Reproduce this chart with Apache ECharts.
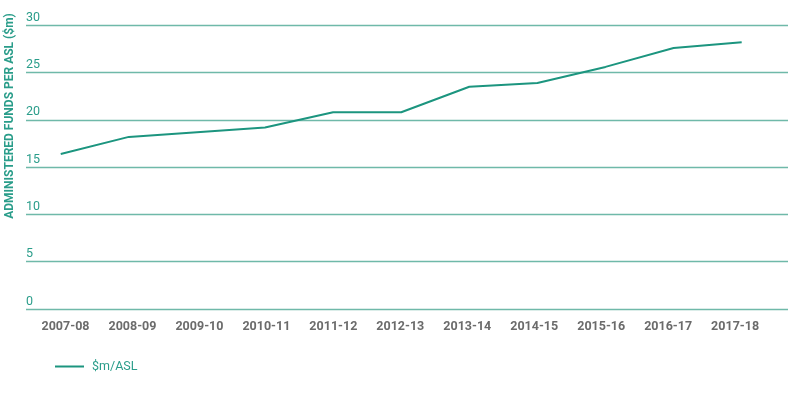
<!DOCTYPE html>
<html>
<head>
<meta charset="utf-8">
<script src="https://cdn.jsdelivr.net/npm/echarts@6/dist/echarts.min.js"></script>
<style>html,body{margin:0;padding:0;background:#fff}#c{width:795px;height:395px}</style>
</head>
<body>
<div id="c"></div>
<script>
var categories = ['2007-08','2008-09','2009-10','2010-11','2011-12','2012-13','2013-14','2014-15','2015-16','2016-17','2017-18'];
var fundsPerAsl = [16.4, 18.2, 18.7, 19.2, 20.8, 20.8, 23.5, 23.9, 25.6, 27.6, 28.2];
var yTicks = [0, 5, 10, 15, 20, 25, 30];
var seriesName = '$m/ASL';
var yTitle = 'ADMINISTERED FUNDS PER ASL ($m)';

var FONT = 'Roboto,"Liberation Sans",sans-serif';
var chart = echarts.init(document.getElementById('c'));
var idx = categories.map(function(_, i){ return i; });
chart.setOption({
  animation: false,
  grid: { left: 26, right: 7, top: 25.3, bottom: 86 },
  xAxis: [{
    type: 'value', min: -0.51, max: 10.68,
    axisLine: { show: false }, axisTick: { show: false },
    axisLabel: { show: false }, splitLine: { show: false }
  }, {
    type: 'value', min: -0.59, max: 10.79, position: 'bottom',
    axisLine: { show: false }, axisTick: { show: false }, splitLine: { show: false },
    axisLabel: {
      customValues: idx,
      formatter: function(v){ return categories[Math.round(v)]; },
      color: '#6b6b6b', fontFamily: FONT, fontWeight: 'bold', fontSize: 12.5, margin: 11
    }
  }],
  yAxis: {
    type: 'value', min: 0, max: 30, interval: 5,
    axisLine: { show: false }, axisTick: { show: false },
    splitLine: { lineStyle: { color: '#6fb9a9', width: 1.3 } },
    axisLabel: {
      inside: true, align: 'left', verticalAlign: 'bottom', margin: 0,
      lineHeight: 13, padding: [0, 0, 1, 0],
      color: '#2a9d8a', fontFamily: FONT, fontSize: 12.5,
      formatter: function(v){ return yTicks.indexOf(v) >= 0 ? String(v) : ''; }
    }
  },
  legend: {
    left: 50, top: 355, icon: 'rect', itemWidth: 29, itemHeight: 2, itemGap: 10,
    textStyle: { color: '#2a9d8a', fontFamily: FONT, fontSize: 12.5, padding: [0,0,0,3] },
    data: [seriesName]
  },
  graphic: [{
    type: 'text', x: 10, y: 116, rotation: Math.PI / 2,
    style: { text: yTitle, fill: '#2a9d8a', font: 'bold 12px ' + FONT, align: 'center', verticalAlign: 'middle' }
  }],
  series: [{
    name: seriesName, type: 'line', xAxisIndex: 0,
    data: fundsPerAsl.map(function(v, i){ return [i, v]; }),
    showSymbol: false, symbol: 'none',
    lineStyle: { color: '#1c957f', width: 2 }, itemStyle: { color: '#1c957f' }
  }]
});
</script>
</body>
</html>
